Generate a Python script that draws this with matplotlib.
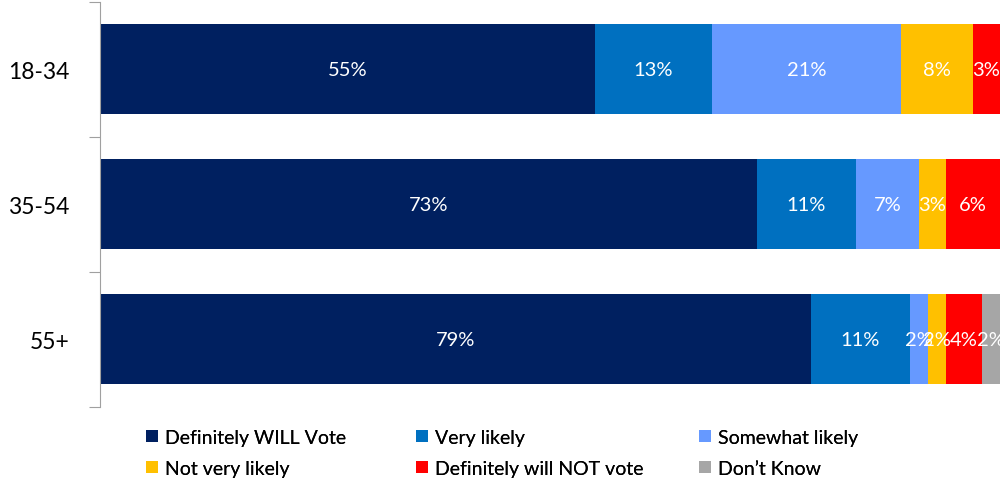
import numpy as np
import matplotlib.pyplot as plt

plt.rcParams['font.family'] = ['Lato', 'DejaVu Sans']

# data
groups = ['18-34', '35-54', '55+']
series = ['Definitely WILL Vote', 'Very likely', 'Somewhat likely',
          'Not very likely', 'Definitely will NOT vote', 'Don\u2019t Know']
definitely_will = [55, 73, 79]
very_likely = [13, 11, 11]
somewhat_likely = [21, 7, 2]
not_very_likely = [8, 3, 2]
definitely_not = [3, 6, 4]
dont_know = [0, 0, 2]
values = [definitely_will, very_likely, somewhat_likely,
          not_very_likely, definitely_not, dont_know]
colors = ['#002060', '#0070C0', '#6699FF', '#FFC000', '#FF0000', '#A6A6A6']

fig = plt.figure(figsize=(10, 4.85), dpi=100)
ax = fig.add_axes([0.1, 0.159, 0.9, 0.835])

y = np.arange(len(groups))
left = np.zeros(len(groups))
handles = []
for name, vals, col in zip(series, values, colors):
    vals = np.array(vals, dtype=float)
    b = ax.barh(y, vals, left=left, height=0.667, color=col, label=name)
    handles.append(b)
    for yi, l, v in zip(y, left, vals):
        if v > 0:
            ax.text(l + v / 2, yi, f'{int(v)}%', ha='center', va='center',
                    color='white', fontsize=14.5)
    left += vals

ax.set_xlim(0, 100)
ax.set_ylim(2.5, -0.5)
ax.set_xticks([])
ax.set_yticks([-0.5, 0.5, 1.5, 2.5])
ax.set_yticklabels([])
ax.set_yticks(y, minor=True)
ax.set_yticklabels(groups, minor=True, fontsize=16.5)
ax.tick_params(axis='y', which='major', length=8, color='#A0A0A0')
ax.tick_params(axis='y', which='minor', length=0, pad=22)
for s in ['top', 'right', 'bottom']:
    ax.spines[s].set_visible(False)
ax.spines['left'].set_color('#A0A0A0')

# legend: three columns placed like the original
col_x = [0.146, 0.416, 0.699]
cols = [[0, 3], [1, 4], [2, 5]]
for cx, idx in zip(col_x, cols):
    leg = fig.legend([handles[i] for i in idx], [series[i] for i in idx],
                     loc='upper left', bbox_to_anchor=(cx, 0.114),
                     frameon=False, fontsize=14, handlelength=0.6,
                     handleheight=0.6, handletextpad=0.4, labelspacing=0.72,
                     borderpad=0.0, borderaxespad=0.0)
    fig.add_artist(leg)

fig.savefig('out.png', dpi=100)
